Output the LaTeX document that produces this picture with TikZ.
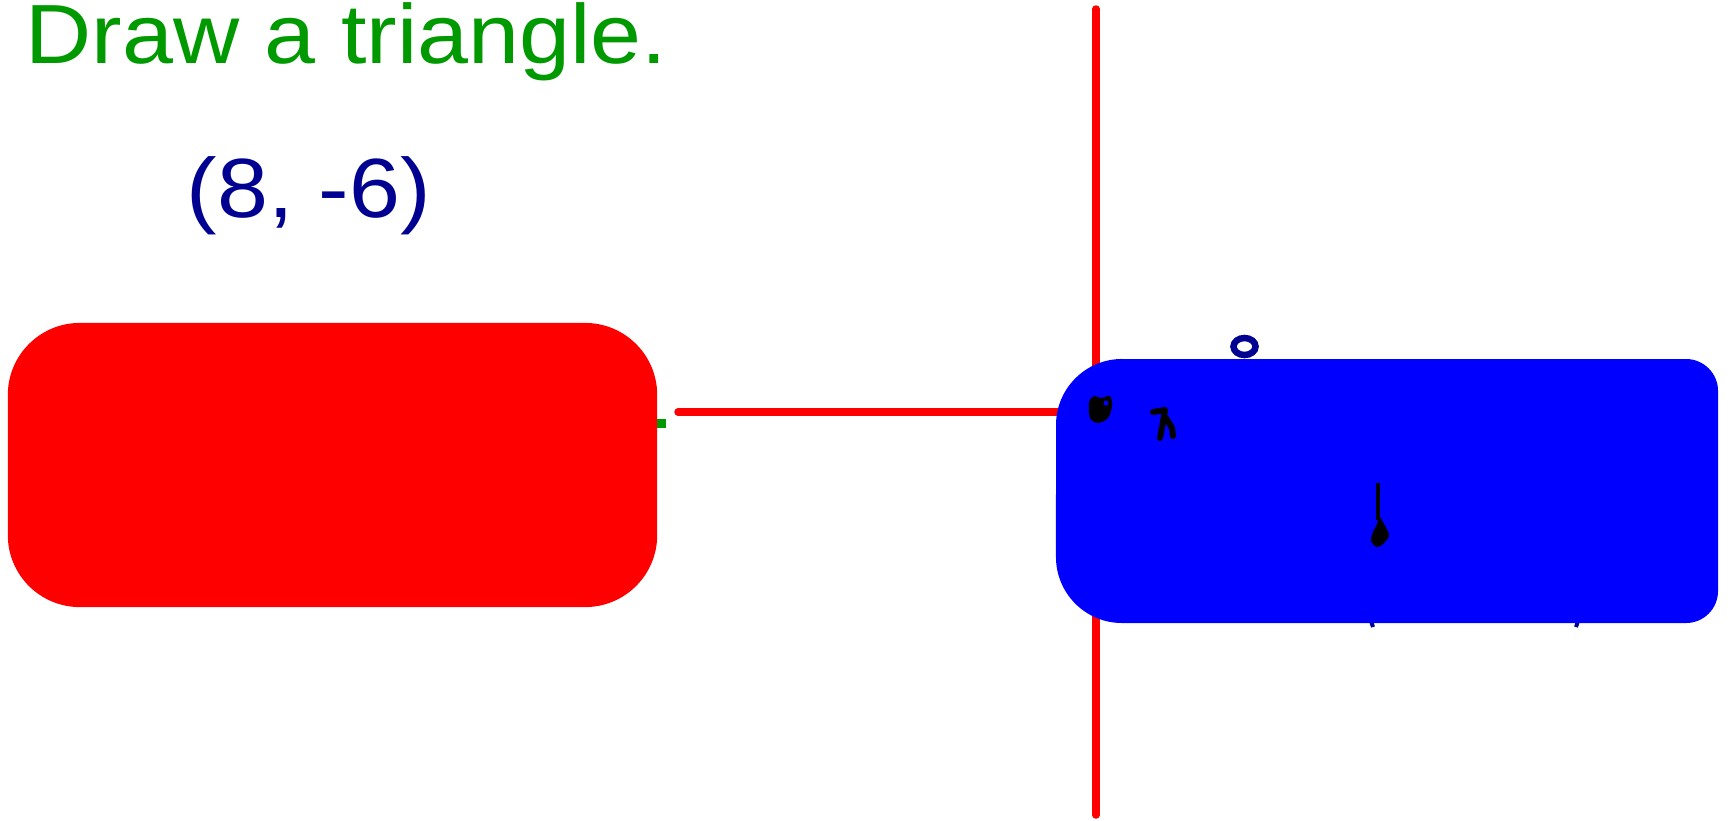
\documentclass[tikz,border=0pt]{standalone}
\usepackage{fontspec}
\newfontfamily\capfont[FakeStretch=1.09]{Liberation Sans}
\usepackage{xcolor}
\usepackage{tikz}
\usetikzlibrary{positioning}
\definecolor{capgreen}{RGB}{0,153,0}
\definecolor{ptnavy}{RGB}{0,0,145}
\definecolor{boxred}{RGB}{255,0,0}
\definecolor{boxblue}{RGB}{0,0,255}

\begin{document}
\begin{tikzpicture}[
    x=0.01cm, y=0.01cm,
    caption/.style={anchor=base west, inner sep=0pt, font={\capfont\fontsize{23.9}{28}\selectfont}},
    redbox/.style={rectangle, fill=boxred, rounded corners=0.72cm, inner sep=0pt,
                   minimum width=6.49cm, minimum height=2.84cm},
    axisline/.style={draw=boxred, line width=0.075cm, line cap=round},
    scribble/.style={draw=black, line width=0.06cm, line cap=round, line join=round},
  ]
    \useasboundingbox (0,0) rectangle (1728,820);

    % texts
    \node[caption, text=capgreen] (task) at (25,757) {Draw a triangle.};
    \node[caption, text=ptnavy] (point) at (186,603) {(8, -6)};

    % red lines
    \coordinate (vtop) at (1096,811);
    \coordinate (vbot) at (1096,5);
    \coordinate (hleft) at (678,408);
    \coordinate (hright) at (1096,408);
    \draw[axisline] (vtop) -- (vbot);
    \draw[axisline] (hleft) -- (hright);

    % bits that the boxes cover
    \fill[capgreen] (650,392) rectangle (666,401);
    \draw[ptnavy, line width=0.065cm] (1244.5,473.5) ellipse [x radius=0.11cm, y radius=0.085cm];
    \draw[ptnavy, line width=0.04cm] (1369,205) -- (1373,193);
    \draw[ptnavy, line width=0.04cm] (1580,205) -- (1576,193);

    % boxes
    \node[redbox] (rbox) at (332.5,355) {};
    \fill[boxblue] (1122,461) -- (1686,461) arc[start angle=90, end angle=0, radius=0.32cm]
        -- (1718,229) arc[start angle=0, end angle=-90, radius=0.32cm]
        -- (1122,197) arc[start angle=-90, end angle=-180, radius=0.66cm]
        -- (1056,395) arc[start angle=180, end angle=90, radius=0.66cm] -- cycle;

    % black marks on the blue box
    \fill[black] plot[smooth cycle] coordinates {(1089,418) (1094,424) (1101,422) (1110,424) (1112,414) (1108,402) (1098,397) (1090,402)};
    \fill[boxblue] (1106,417) circle (0.025cm);
    \draw[scribble] (1153,408) -- (1165,410) -- (1163,398) -- (1160,382);
    \draw[scribble] (1166,402) -- (1172,392) -- (1173,384);
    \draw[black, line width=0.04cm] (1378,337) -- (1378,300);
    \fill[black] plot[smooth cycle] coordinates {(1379,304) (1384,296) (1389,285) (1384,277) (1377,273) (1371,279) (1373,288) (1377,296)};
\end{tikzpicture}
\end{document}
